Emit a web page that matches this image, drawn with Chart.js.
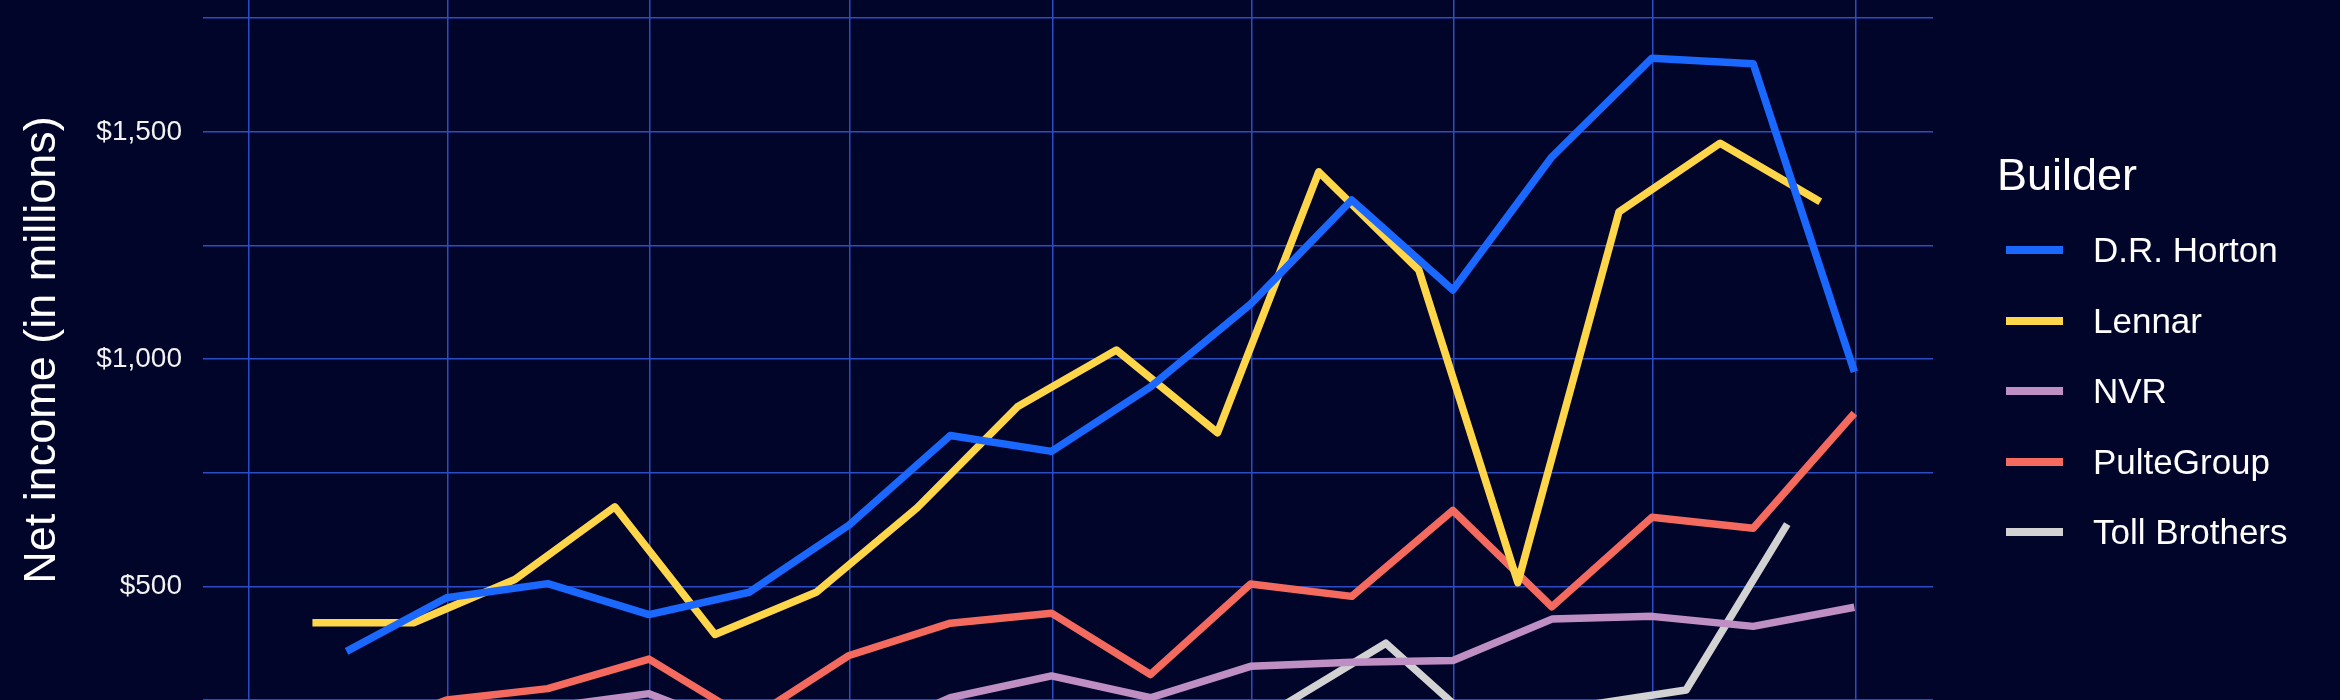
<!DOCTYPE html>
<html>
<head>
<meta charset="utf-8">
<script src="https://cdn.jsdelivr.net/npm/chart.js@4.4.1/dist/chart.umd.min.js"></script>
<style>
  html, body { margin: 0; padding: 0; background: #02052a; }
  #wrap { position: relative; width: 2340px; height: 700px; overflow: hidden; background: #02052a; }
  #chart { position: absolute; left: 0; top: 0; }
  #legend { position: absolute; left: 1997px; top: 0; color: #ffffff;
            font-family: "Liberation Sans", Arial, Helvetica, sans-serif; }
  #legend .title { position: absolute; left: 0; top: 150px; font-size: 45px; line-height: 50px; white-space: nowrap; }
  #legend .item { position: absolute; left: 0; height: 50px; white-space: nowrap; }
  #legend .swatch { position: absolute; left: 9px; top: 21px; width: 57px; height: 8px; }
  #legend .label { position: absolute; left: 96px; top: 0; font-size: 35px; line-height: 50px; }
</style>
</head>
<body>
<div id="wrap">
  <canvas id="chart" width="2340" height="700"></canvas>
  <div id="legend"></div>
</div>
<script>
// quarter end dates (each builder reports on its own fiscal calendar)
const calendarQuarters = ['2019-03-31', '2019-06-30', '2019-09-30', '2019-12-31',
  '2020-03-31', '2020-06-30', '2020-09-30', '2020-12-31',
  '2021-03-31', '2021-06-30', '2021-09-30', '2021-12-31',
  '2022-03-31', '2022-06-30', '2022-09-30', '2022-12-31'];
const lennarQuarters = ['2019-02-28', '2019-05-31', '2019-08-31', '2019-11-30',
  '2020-02-29', '2020-05-31', '2020-08-31', '2020-11-30',
  '2021-02-28', '2021-05-31', '2021-08-31', '2021-11-30',
  '2022-02-28', '2022-05-31', '2022-08-31', '2022-11-30'];
const tollQuarters = ['2019-01-31', '2019-04-30', '2019-07-31', '2019-10-31',
  '2020-01-31', '2020-04-30', '2020-07-31', '2020-10-31',
  '2021-01-31', '2021-04-30', '2021-07-31', '2021-10-31',
  '2022-01-31', '2022-04-30', '2022-07-31', '2022-10-31'];

// net income, $ millions
const drHorton = [357, 475, 506, 438, 487, 635, 832, 797, 939, 1121, 1350, 1152, 1445, 1662, 1650, 972];
const lennar = [420, 420, 515, 675, 394, 487, 673, 895, 1020, 838, 1412, 1196, 508, 1324, 1475, 1346];
const nvr = [175, 210, 234, 264, 178, 156, 255, 303, 255, 324, 333, 337, 428, 434, 412, 454];
const pulteGroup = [165, 250, 275, 340, 206, 348, 419, 441, 306, 505, 478, 667, 455, 652, 628, 881];
const tollBrothers = [113, 145, 156, 176, 71, 54, 70, 215, 92, 175, 240, 375, 175, 238, 272, 637];

// axis breaks
const xBreaks = ['2019-01-01', '2019-07-01', '2020-01-01', '2020-07-01', '2021-01-01',
  '2021-07-01', '2022-01-01', '2022-07-01', '2023-01-01'];
const yBreaks = [250, 500, 750, 1000, 1250, 1500, 1750];
const yLabels = [500, 1000, 1500];

const dayNum = d => Date.parse(d + 'T00:00:00Z') / 864e5;
const toPoints = (dates, vals) => vals.map((v, i) => ({ x: dayNum(dates[i]), y: v }));

const series = [
  { label: 'D.R. Horton', dates: calendarQuarters, values: drHorton, color: '#1a68ff' },
  { label: 'Lennar', dates: lennarQuarters, values: lennar, color: '#ffd54a' },
  { label: 'NVR', dates: calendarQuarters, values: nvr, color: '#bf8fc4' },
  { label: 'PulteGroup', dates: calendarQuarters, values: pulteGroup, color: '#f46a5e' },
  { label: 'Toll Brothers', dates: tollQuarters, values: tollBrothers, color: '#d2d2d2' }
];

// ggplot-style 5% expansion of the date range
const allDays = series.flatMap(s => s.dates.map(dayNum));
const dMin = Math.min(...allDays), dMax = Math.max(...allDays);
const pad = (dMax - dMin) * 0.05;

const font = '"Liberation Sans", Arial, Helvetica, sans-serif';
const gridColor = '#2a4cc4';

const ctx = document.getElementById('chart').getContext('2d');
const chart = new Chart(ctx, {
  type: 'line',
  data: {
    datasets: series.map(s => ({
      label: s.label,
      data: toPoints(s.dates, s.values),
      borderColor: s.color,
      backgroundColor: s.color,
      borderWidth: 7.5,
      borderJoinStyle: 'round',
      borderCapStyle: 'butt',
      pointRadius: 0,
      tension: 0
    }))
  },
  options: {
    responsive: false,
    animation: false,
    layout: { padding: { left: 0, right: 407, top: 0, bottom: 0 } },
    plugins: { legend: { display: false }, tooltip: { enabled: false } },
    scales: {
      x: {
        type: 'linear',
        min: dMin - pad,
        max: dMax + pad,
        border: { display: false },
        grid: { color: gridColor, lineWidth: 1.5, drawTicks: false },
        ticks: { display: false },
        afterBuildTicks: axis => { axis.ticks = xBreaks.map(d => ({ value: dayNum(d) })); },
        afterFit: axis => { axis.height = 0; axis.paddingLeft = 0; axis.paddingRight = 0; }
      },
      y: {
        min: 250,
        max: 1790,
        border: { display: false },
        grid: { color: gridColor, lineWidth: 1.5, drawTicks: false },
        afterBuildTicks: axis => { axis.ticks = yBreaks.map(v => ({ value: v })); },
        afterFit: axis => { axis.width = 203; axis.paddingTop = 0; axis.paddingBottom = 0; },
        ticks: {
          color: '#f2f2f2',
          padding: 21,
          font: { family: font, size: 28 },
          callback: v => yLabels.includes(v) ? '$' + v.toLocaleString('en-US') : ''
        },
        title: {
          display: true,
          text: 'Net income (in millions)',
          color: '#ffffff',
          font: { family: font, size: 45 },
          padding: { top: 16, bottom: 0 }
        }
      }
    }
  }
});

// legend built from the chart's datasets
const legend = document.getElementById('legend');
const title = document.createElement('div');
title.className = 'title';
title.textContent = 'Builder';
legend.appendChild(title);
chart.data.datasets.forEach((ds, i) => {
  const item = document.createElement('div');
  item.className = 'item';
  item.style.top = (225 + i * 70.5) + 'px';
  const sw = document.createElement('span');
  sw.className = 'swatch';
  sw.style.background = ds.borderColor;
  const lab = document.createElement('span');
  lab.className = 'label';
  lab.textContent = ds.label;
  item.appendChild(sw);
  item.appendChild(lab);
  legend.appendChild(item);
});
</script>
</body>
</html>
